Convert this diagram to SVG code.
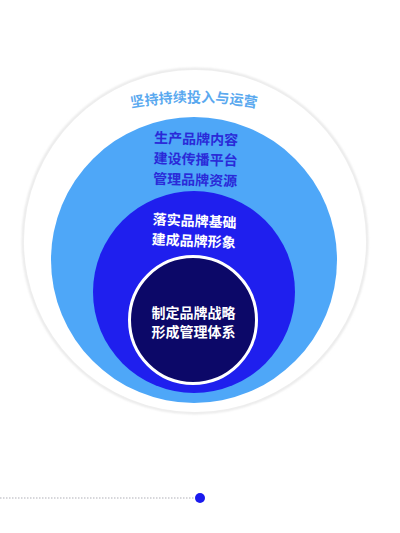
<svg xmlns="http://www.w3.org/2000/svg" width="400" height="533" viewBox="0 0 400 533">
<style>
.t{font-family:"Noto Sans CJK SC","Noto Sans",sans-serif;font-weight:bold;font-size:14px;text-anchor:middle}
.w{fill:#ffffff}
.lb{fill:#5aa9ef}
.db{fill:#2a2ad8}
</style>
<defs>
<path id="arcOuter" d="M 104 113.8 A 350 350 0 0 1 284 113.8"/>
<filter id="soft" x="-10%" y="-10%" width="120%" height="120%">
<feGaussianBlur stdDeviation="1"/>
</filter>
</defs>
<rect width="400" height="533" fill="#ffffff"/>
<g id="ring-outer">
<circle cx="195" cy="241" r="172" fill="none" stroke="#e6e6e6" stroke-width="2.5" filter="url(#soft)"/>
<circle cx="195" cy="241" r="171" fill="#ffffff"/>
<text class="t lb" font-size="14.5"><textPath href="#arcOuter" startOffset="50%">坚持持续投入与运营</textPath></text>
</g>
<g id="ring-light">
<circle cx="194" cy="260" r="143" fill="#4ea7f8"/>
<g transform="rotate(1.6 195 165)">
<text class="t db" x="195.5" y="144">生产品牌内容</text>
<text class="t db" x="195.5" y="164.5">建设传播平台</text>
<text class="t db" x="195.5" y="185">管理品牌资源</text>
</g>
</g>
<g id="ring-blue">
<circle cx="194" cy="292" r="101" fill="#1f1fee"/>
<g transform="rotate(2.5 194 235)">
<text class="t w" x="194" y="226">落实品牌基础</text>
<text class="t w" x="194" y="246">建成品牌形象</text>
</g>
</g>
<g id="core">
<circle cx="193" cy="320" r="63.5" fill="#0c0868" stroke="#ffffff" stroke-width="3"/>
<text class="t w" x="193.5" y="318" font-size="13.5">制定品牌战略</text>
<text class="t w" x="193.5" y="337" font-size="13.5">形成管理体系</text>
</g>
<g id="connectors">
<line x1="0" y1="498" x2="195" y2="498" stroke="#b0b0b8" stroke-width="1.2" stroke-dasharray="1.5 1.5"/>
<circle cx="200" cy="498" r="5" fill="#1a1aee"/>
</g>
</svg>
